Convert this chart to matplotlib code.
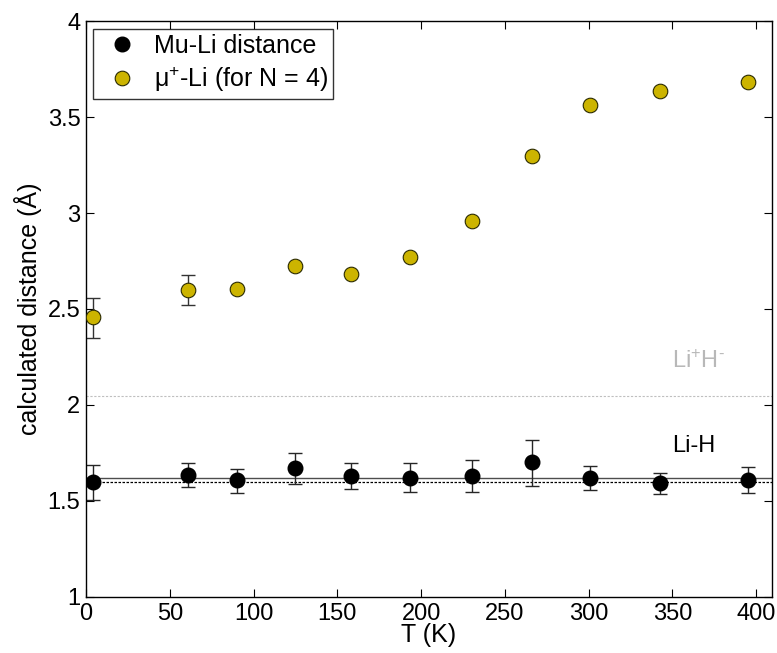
import matplotlib
matplotlib.use("Agg")
import matplotlib.pyplot as plt
import numpy as np

plt.rcParams['font.family'] = ['Liberation Sans', 'DejaVu Sans']
plt.rcParams['mathtext.fontset'] = 'custom'
plt.rcParams['mathtext.rm'] = 'Liberation Sans'
plt.rcParams['mathtext.it'] = 'Liberation Sans:italic'
plt.rcParams['mathtext.bf'] = 'Liberation Sans:bold'

# Temperatures (K)
temp_mu = [4.4, 60.7, 90.0, 124.6, 158.2, 193.6, 230.3, 266.1, 300.9, 342.7, 395.4]

# Mu-Li distance with asymmetric error bars
mu_li = [1.601, 1.636, 1.608, 1.672, 1.630, 1.622, 1.630, 1.702, 1.620, 1.596, 1.609]
mu_li_upper = [1.686, 1.696, 1.664, 1.750, 1.700, 1.698, 1.716, 1.820, 1.681, 1.646, 1.677]
mu_li_lower = [1.506, 1.573, 1.542, 1.587, 1.561, 1.549, 1.547, 1.577, 1.556, 1.535, 1.539]

# mu+ - Li distance (N = 4)
mup_li = [2.457, 2.601, 2.603, 2.726, 2.684, 2.772, 2.957, 3.298, 3.561, 3.637, 3.684]
mup_li_upper = [2.558, 2.675, 2.603, 2.726, 2.684, 2.772, 2.957, 3.298, 3.561, 3.637, 3.684]
mup_li_lower = [2.348, 2.522, 2.603, 2.726, 2.684, 2.772, 2.957, 3.298, 3.561, 3.637, 3.684]

# Reference bond lengths
li_h_ionic = 2.045
li_h_solid = 1.618
li_h_dotted = 1.600

yticks = [1, 1.5, 2, 2.5, 3, 3.5, 4]
xticks = [0, 50, 100, 150, 200, 250, 300, 350, 400]

fig = plt.figure(figsize=(7.77, 6.53), dpi=100)
ax = fig.add_axes([0.1107, 0.0858, 0.9936 - 0.1107, 0.9678 - 0.0858])

xmin, xmax = 0, 409.5
ax.axhline(li_h_ionic, color='0.75', lw=0.8, ls=(0, (2, 1.5)), zorder=1)
ax.axhline(li_h_solid, color='0.3', lw=1.0, ls='-', zorder=1)
ax.axhline(li_h_dotted, color='black', lw=0.9, ls=(0, (2, 1.2)), zorder=1)

mu = np.array(mu_li)
mu_err = [mu - np.array(mu_li_lower), np.array(mu_li_upper) - mu]
ax.errorbar(temp_mu, mu, yerr=mu_err, fmt='none', ecolor='0.15',
            elinewidth=1.0, capsize=5, capthick=1.0, zorder=2)
ax.plot(temp_mu, mu, 'o', color='black', markersize=10.5, markeredgecolor='black',
        ls='none', label='Mu-Li distance', zorder=3)

mp = np.array(mup_li)
mp_err = [mp - np.array(mup_li_lower), np.array(mup_li_upper) - mp]
ax.errorbar(temp_mu, mp, yerr=mp_err, fmt='none', ecolor='0.2',
            elinewidth=1.0, capsize=5, capthick=1.0, zorder=2)
ax.plot(temp_mu, mp, 'o', color='#CCB400', markersize=10.5, markeredgecolor='#2a2a00',
        markeredgewidth=0.8, ls='none', label='μ$^{+}$-Li (for N = 4)', zorder=3)

ax.text(350, 2.193, 'Li$^{+}$H$^{\\text{-}}$', color='0.72', fontsize=17,
        va='baseline', ha='left')
ax.text(350, 1.755, 'Li-H', color='black', fontsize=17, va='baseline', ha='left')

ax.set_xlim(xmin, xmax)
ax.set_ylim(1, 4)
ax.set_xticks(xticks)
ax.set_yticks(yticks)
ax.set_yticklabels([f'{t:g}' for t in yticks])
ax.tick_params(direction='in', length=6, width=0.8, top=True, right=True,
               labelsize=17, pad=4)
for s in ax.spines.values():
    s.set_linewidth(1.0)

ax.set_xlabel('T (K)', fontsize=18, labelpad=-1)
ax.set_ylabel('calculated distance (Å)', fontsize=18, labelpad=4)

leg = ax.legend(loc='upper left', bbox_to_anchor=(0.0102, 0.986), fontsize=18,
                frameon=True, fancybox=False, edgecolor='black',
                borderpad=0.2, handletextpad=0.35, labelspacing=0.25,
                handlelength=1.9, borderaxespad=0)
leg.get_frame().set_linewidth(1.0)

fig.savefig('out.png', dpi=100)
